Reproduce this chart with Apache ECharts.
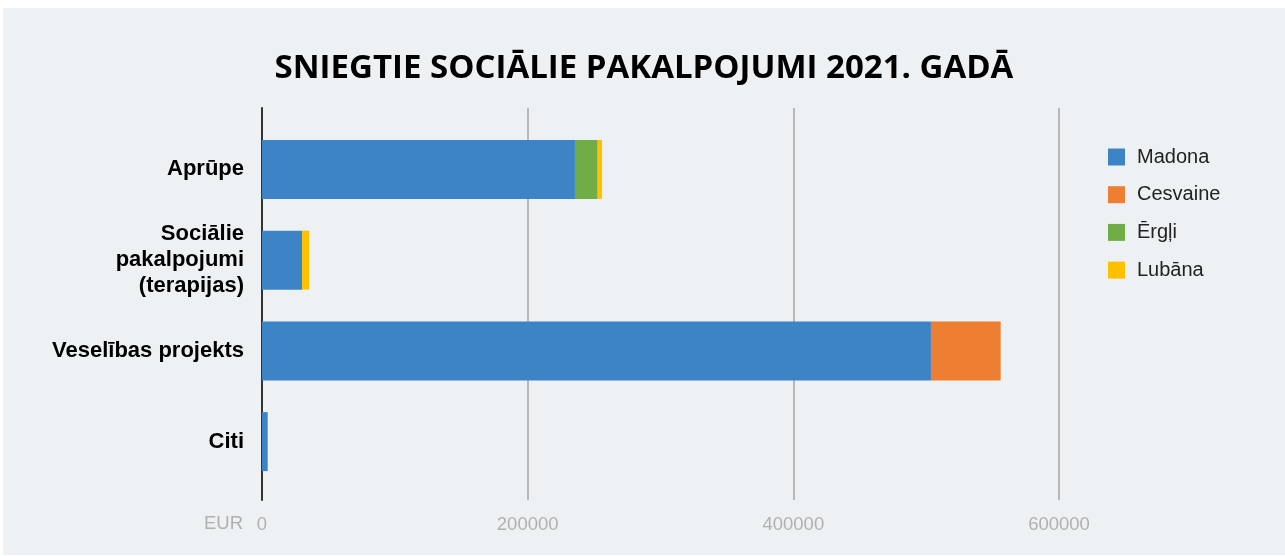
<!DOCTYPE html>
<html>
<head>
<meta charset="utf-8">
<script src="https://cdn.jsdelivr.net/npm/echarts@6/dist/echarts.min.js"></script>
<style>
html,body{margin:0;padding:0;background:#ffffff;width:1285px;height:556px;overflow:hidden;}
#chart{position:absolute;left:3px;top:8px;width:1282px;height:547px;}
</style>
</head>
<body>
<div id="chart"></div>
<script>
const titleText = 'SNIEGTIE SOCIĀLIE PAKALPOJUMI 2021. GADĀ';
const categories = ['Aprūpe', 'Sociālie\npakalpojumi\n(terapijas)', 'Veselības projekts', 'Citi'];
const seriesNames = ['Madona', 'Cesvaine', 'Ērgļi', 'Lubāna'];
const madona   = [235600, 30100, 503600, 4300];
const cesvaine = [0, 0, 52500, 0];
const ergli    = [17100, 0, 0, 0];
const lubana   = [3300, 5500, 0, 0];
const xTicks = [0, 200000, 400000, 600000];
const unitLabel = 'EUR';
const colors = ['#3d84c6', '#ed7e32', '#70ad47', '#ffc000'];
const seriesValues = [madona, cesvaine, ergli, lubana];

const chart = echarts.init(document.getElementById('chart'));
const gridLeft = 259, gridRight = 226;
const option = {
  backgroundColor: '#eef1f4',
  animation: false,
  color: colors,
  title: {
    text: titleText,
    left: 'center',
    top: 39,
    textStyle: {fontFamily: 'Open Sans', fontWeight: 'bold', fontSize: 33, color: '#000'}
  },
  legend: {
    orient: 'vertical',
    left: 1100,
    top: 134,
    icon: 'rect',
    itemWidth: 17,
    itemHeight: 17,
    itemGap: 17.7,
    data: seriesNames,
    textStyle: {fontFamily: 'Liberation Sans', fontSize: 20, color: '#222', lineHeight: 20, padding: [0, 0, 0, 7]}
  },
  graphic: [{
    type: 'text',
    right: 1282 - 240,
    top: 506,
    style: {text: unitLabel, font: '18.5px "Liberation Sans"', fill: '#b0b0b0'}
  }],
  grid: [
    {left: gridLeft, right: gridRight, top: 100, bottom: 55},
    {left: gridLeft, right: gridRight, top: 116, bottom: 68}
  ],
  xAxis: [
    {
      type: 'value', gridIndex: 0, min: xTicks[0], max: xTicks[xTicks.length - 1], interval: xTicks[1] - xTicks[0],
      axisLine: {show: false}, axisTick: {show: false},
      splitLine: {show: true, lineStyle: {color: '#b8b8b8', width: 2}},
      axisLabel: {fontFamily: 'Liberation Sans', fontSize: 18.5, color: '#b0b0b0', margin: 15, formatter: v => String(v)}
    },
    {
      type: 'value', gridIndex: 1, min: xTicks[0], max: xTicks[xTicks.length - 1],
      show: false, splitLine: {show: false}
    }
  ],
  yAxis: [
    {
      type: 'category', gridIndex: 0, data: [''],
      axisLine: {show: true, lineStyle: {color: '#333', width: 2}},
      axisTick: {show: false}, axisLabel: {show: false}
    },
    {
      type: 'category', gridIndex: 1, data: categories, inverse: true,
      axisLine: {show: false}, axisTick: {show: false},
      axisLabel: {fontFamily: 'Liberation Sans', fontWeight: 'bold', fontSize: 22, color: '#000', margin: 18, lineHeight: 26, align: 'right'}
    }
  ],
  series: seriesNames.map((name, i) => ({
    name: name,
    type: 'bar',
    stack: 'total',
    xAxisIndex: 1,
    yAxisIndex: 1,
    barWidth: 59,
    data: seriesValues[i],
    itemStyle: {color: colors[i]}
  }))
};
chart.setOption(option);
</script>
</body>
</html>
